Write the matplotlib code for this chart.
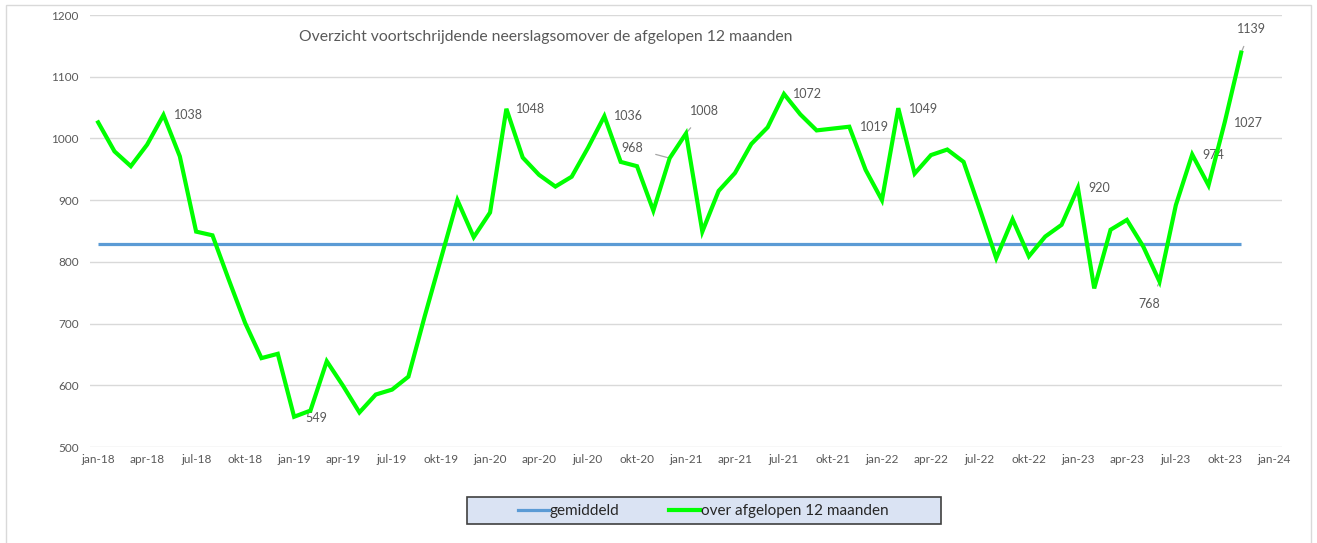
import numpy as np
import matplotlib
matplotlib.use("Agg")
import matplotlib.pyplot as plt
from matplotlib.patches import Rectangle
from matplotlib.lines import Line2D

plt.rcParams['font.family'] = ['Lato', 'DejaVu Sans']

# ---- data ----
tick_labels = ["jan-18", "apr-18", "jul-18", "okt-18", "jan-19", "apr-19", "jul-19", "okt-19",
               "jan-20", "apr-20", "jul-20", "okt-20", "jan-21", "apr-21", "jul-21", "okt-21",
               "jan-22", "apr-22", "jul-22", "okt-22", "jan-23", "apr-23", "jul-23", "okt-23",
               "jan-24"]
neerslag_12m = [1026, 979, 955, 990, 1038, 971, 849, 843, 771, 701, 644, 651,   # 2018
                549, 559, 639, 599, 556, 585, 593, 614, 712, 806, 900, 840,     # 2019
                880, 1048, 969, 941, 922, 938, 985, 1036, 962, 955, 883, 968,   # 2020
                1008, 849, 915, 944, 991, 1018, 1072, 1039, 1013, 1016, 1019, 949,  # 2021
                900, 1049, 943, 973, 982, 962, 885, 806, 869, 809, 841, 860,    # 2022
                920, 757, 852, 868, 825, 768, 892, 974, 924, 1027, 1139]        # 2023 (t/m nov)
gemiddeld_waarde = 829
legend_labels = ["gemiddeld", "over afgelopen 12 maanden"]
title = "Overzicht voortschrijdende neerslagsomover de afgelopen 12 maanden"
# labelled points: (month index, text, offset x px, offset y px, leader)
labels = [(4, "1038", 25, 0, False), (12, "549", 22, -1, False), (25, "1048", 24, 0, False),
          (31, "1036", 24, 0, False), (35, "968", -37, 10, True), (36, "1008", 18, 22, True),
          (42, "1072", 23, 0, False), (46, "1019", 25, 0, False), (49, "1049", 25, -1, False),
          (60, "920", 21, 0, False), (65, "768", -10, -22, True), (67, "974", 21, -1, False),
          (69, "1027", 24, -1, False), (70, "1139", 10, 24, True)]

x = np.arange(len(neerslag_12m))
gemiddeld = [gemiddeld_waarde] * len(neerslag_12m)

W, H = 1317, 543
fig = plt.figure(figsize=(W / 100, H / 100), dpi=100)
ax = fig.add_axes([90 / W, 1 - 447 / H, (1282 - 90) / W, (447 - 15) / H])

grey_txt = "#595959"
ax.plot(x, gemiddeld, color="#5b9bd5", lw=2.3, solid_capstyle="butt", zorder=3)
ax.plot(x, neerslag_12m, color="#00ff00", lw=3.0, solid_joinstyle="miter", zorder=4)

ax.set_xlim(-0.5, 72.5)
ax.set_ylim(500, 1200)
ax.set_yticks(np.arange(500, 1201, 100))
ax.set_xticks(np.arange(0, 73, 3))
ax.set_xticklabels(tick_labels)
ax.grid(axis="y", color="#d9d9d9", lw=1)
ax.set_axisbelow(True)
for s in ax.spines.values():
    s.set_visible(False)
ax.tick_params(length=0, labelsize=8.5, labelcolor=grey_txt, pad=8)
ax.tick_params(axis="x", pad=5)

for i, txt, dx, dy, leader in labels:
    if leader:
        ax.annotate(txt, xy=(x[i], neerslag_12m[i]), xytext=(dx, dy), textcoords="offset pixels",
                    ha="center", va="center", fontsize=9, color=grey_txt,
                    arrowprops=dict(arrowstyle="-", color="#a6a6a6", lw=0.9, shrinkA=7, shrinkB=1))
    else:
        ax.annotate(txt, xy=(x[i], neerslag_12m[i]), xytext=(dx, dy), textcoords="offset pixels",
                    ha="center", va="center", fontsize=9, color=grey_txt)

fig.text(299 / W, 1 - 37 / H, title, ha="left", va="center", fontsize=11.3, color=grey_txt)

# outer chart border
fig.patches.append(Rectangle((6 / W, -0.01), (1311 - 6) / W, (543 - 5) / H + 0.01,
                             transform=fig.transFigure, fill=False, ec="#d9d9d9", lw=1))
# legend box
fig.patches.append(Rectangle((467 / W, 1 - 524 / H), (941 - 467) / W, 27 / H,
                             transform=fig.transFigure, fc="#dae3f3", ec="#404040", lw=1.2))
handles = [Line2D([], [], color="#5b9bd5", lw=2.3), Line2D([], [], color="#00ff00", lw=3.0)]
fig.legend(handles, legend_labels, loc="center left",
           bbox_to_anchor=(518 / W, 1 - 511 / H), ncol=2, frameon=False, fontsize=11,
           handlelength=2.0, handletextpad=0.05, columnspacing=3.3, borderpad=0, borderaxespad=0,
           labelcolor="#262626")

fig.savefig("out.png", dpi=100)
